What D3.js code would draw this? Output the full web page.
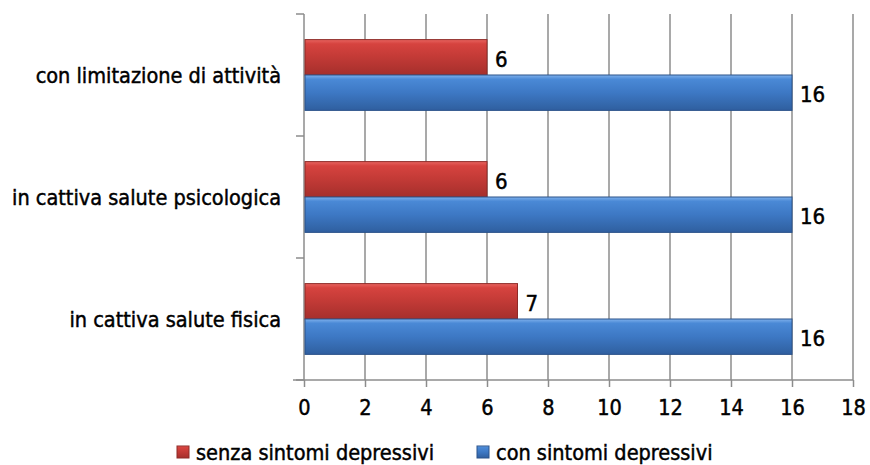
<!DOCTYPE html>
<html>
<head>
<meta charset="utf-8">
<script src="https://cdn.jsdelivr.net/npm/d3@7"></script>
<style>
  body { margin: 0; background: #fff; }
  text { font-family: "DejaVu Sans Condensed", "DejaVu Sans", sans-serif; fill: #000; stroke: #000; stroke-width: 0.45; }
</style>
</head>
<body>
<div id="chart"></div>
<script>
// categories, top to bottom as drawn
var categories = ['con limitazione di attività', 'in cattiva salute psicologica', 'in cattiva salute fisica'];
var seriesNames = ['senza sintomi depressivi', 'con sintomi depressivi'];
var senza = [6, 6, 7];
var con = [16, 16, 16];
var xTicks = [0, 2, 4, 6, 8, 10, 12, 14, 16, 18];

var W = 870, H = 465;
var margin = {left: 304, right: 17, top: 14, bottom: 85};

var svg = d3.select('#chart').append('svg')
  .attr('width', W)
  .attr('height', H);

// gradients for the shiny bars
var defs = svg.append('defs');
var grads = [
  {id: 'gRed', stops: ['#e86460', '#d6433f', '#c23a36', '#a52f2c']},
  {id: 'gBlue', stops: ['#7fb1ec', '#4a89d6', '#3d78c4', '#2f5f9f']}
];
grads.forEach(function (g) {
  var lg = defs.append('linearGradient').attr('id', g.id)
    .attr('x1', 0).attr('y1', 0).attr('x2', 0).attr('y2', 1);
  [0, 0.12, 0.5, 1].forEach(function (o, i) {
    lg.append('stop').attr('offset', o).attr('stop-color', g.stops[i]);
  });
});
var fills = ['url(#gRed)', 'url(#gBlue)'];
var edges = ['#8e2a27', '#2a528a'];

var x = d3.scaleLinear().domain([0, 18]).range([margin.left, W - margin.right]);
var y = d3.scaleBand().domain(categories).range([margin.top, H - margin.bottom]).paddingInner(0.42).paddingOuter(0.21);
var inner = d3.scaleBand().domain([0, 1]).range([0, y.bandwidth()]);
var bottom = H - margin.bottom;

// gridlines
svg.append('g').selectAll('line').data(xTicks.slice(1)).enter().append('line')
  .attr('x1', function (d) { return x(d); })
  .attr('x2', function (d) { return x(d); })
  .attr('y1', margin.top)
  .attr('y2', bottom)
  .attr('stroke', '#8c8c8c')
  .attr('stroke-width', 1.5);

// x axis
var xAxis = svg.append('g').attr('transform', 'translate(0,' + bottom + ')')
  .call(d3.axisBottom(x).tickValues(xTicks).tickSize(7).tickPadding(13));
xAxis.select('.domain').remove();
xAxis.selectAll('.tick line').attr('stroke', '#8c8c8c').attr('stroke-width', 1.5);
xAxis.selectAll('.tick text').attr('font-size', 21.5).style('font-family', '"DejaVu Sans Condensed", sans-serif');
svg.append('line')
  .attr('x1', margin.left - 11).attr('x2', W - margin.right)
  .attr('y1', bottom).attr('y2', bottom)
  .attr('stroke', '#8c8c8c').attr('stroke-width', 1.5);

// y axis line and ticks between categories
var yEdges = [margin.top].concat(categories.map(function (c) { return y(c) + y.bandwidth() + y.step() * y.paddingInner() / 2; }));
yEdges[yEdges.length - 1] = bottom;
svg.append('line')
  .attr('x1', margin.left).attr('x2', margin.left)
  .attr('y1', margin.top).attr('y2', bottom)
  .attr('stroke', '#8c8c8c').attr('stroke-width', 1.5);
svg.append('g').selectAll('line').data(yEdges).enter().append('line')
  .attr('x1', margin.left - 8).attr('x2', margin.left)
  .attr('y1', function (d) { return d; })
  .attr('y2', function (d) { return d; })
  .attr('stroke', '#8c8c8c').attr('stroke-width', 1.5);

// category labels
svg.append('g').selectAll('text').data(categories).enter().append('text')
  .attr('x', 281)
  .attr('y', function (d) { return y(d) + y.bandwidth() / 2; })
  .attr('dy', '0.35em')
  .attr('text-anchor', 'end')
  .attr('font-size', 21.5)
  .text(function (d) { return d; });

// bars
[senza, con].forEach(function (vals, s) {
  var g = svg.append('g');
  g.selectAll('rect').data(vals).enter().append('rect')
    .attr('x', x(0) + 1)
    .attr('y', function (d, i) { return y(categories[i]) + inner(s); })
    .attr('width', function (d) { return x(d) - x(0) - 1; })
    .attr('height', inner.bandwidth())
    .attr('fill', fills[s])
    .attr('stroke', edges[s])
    .attr('stroke-width', 1);
  g.selectAll('text').data(vals).enter().append('text')
    .attr('x', function (d) { return x(d) + 8; })
    .attr('y', function (d, i) { return y(categories[i]) + inner(s) + inner.bandwidth() / 2 + 2; })
    .attr('dy', '0.35em')
    .attr('font-size', 22)
    .text(function (d) { return d; });
});

// legend
var legX = [177, 477];
var leg = svg.append('g');
seriesNames.forEach(function (n, i) {
  leg.append('rect')
    .attr('x', legX[i]).attr('y', 446)
    .attr('width', 12).attr('height', 12)
    .attr('fill', fills[i])
    .attr('stroke', edges[i]);
  leg.append('text')
    .attr('x', legX[i] + 19).attr('y', 452)
    .attr('dy', '0.35em')
    .attr('font-size', 21.5)
    .text(n);
});
</script>
</body>
</html>
